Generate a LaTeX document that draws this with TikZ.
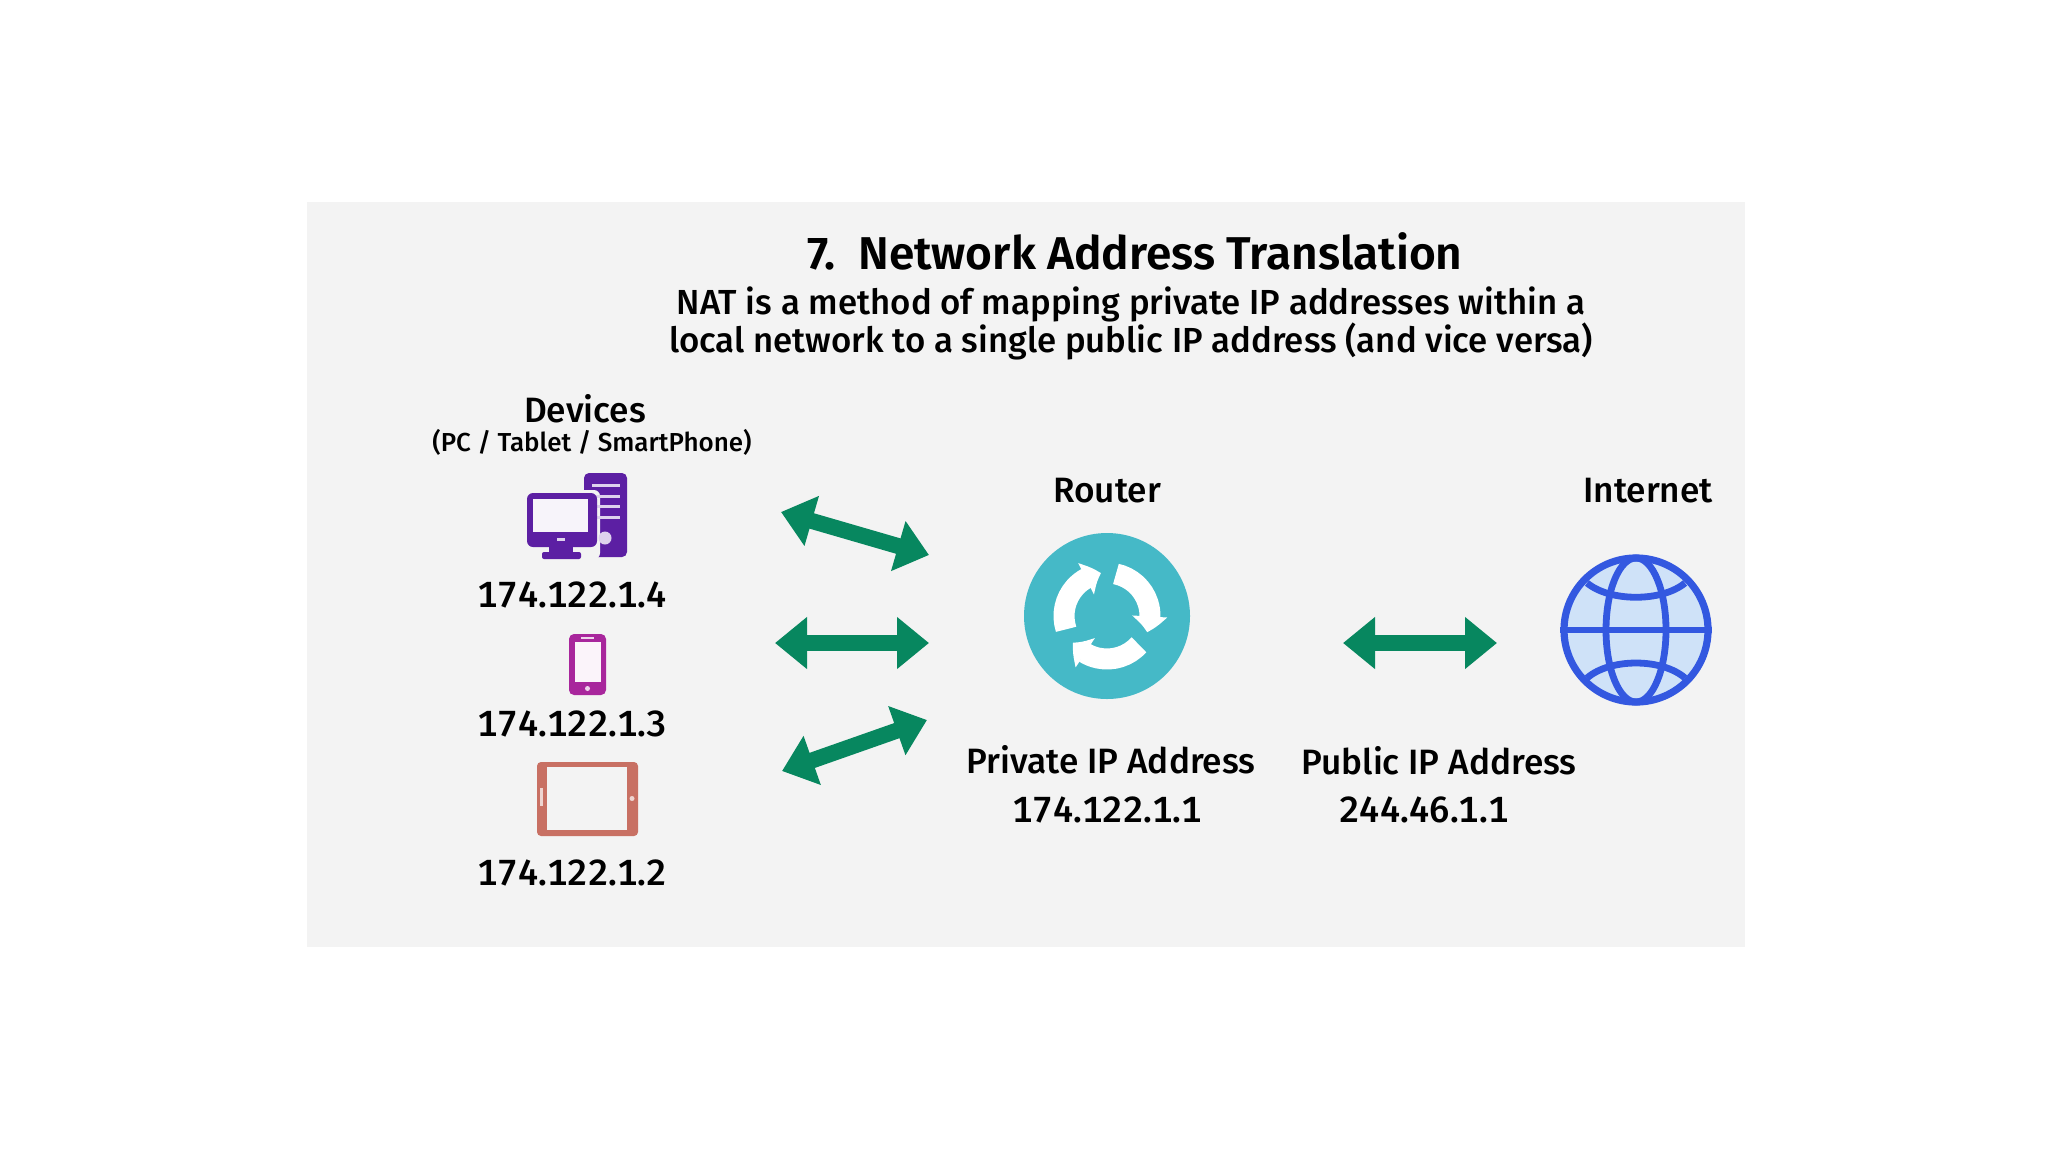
\documentclass[tikz,border=0pt]{standalone}
\usepackage{fontspec}
\setmainfont{Fira Sans Medium}[BoldFont={Fira Sans SemiBold}]
\newfontfamily\digitfont{Fira Sans Medium}[Numbers=Monospaced]
\usetikzlibrary{shapes.geometric, arrows.meta, positioning, backgrounds, bending}
\definecolor{panelgray}{HTML}{F3F3F3}
\definecolor{arrowgreen}{HTML}{07875F}
\definecolor{routerteal}{HTML}{45B9C7}
\definecolor{globeblue}{HTML}{3358E0}
\definecolor{globefill}{HTML}{CFE2F8}
\definecolor{pcpurple}{HTML}{5C1FA3}
\definecolor{phonepink}{HTML}{A8269C}
\definecolor{tabletred}{HTML}{C87063}

\begin{document}
\begin{tikzpicture}[
  x=0.5pt, y=-0.5pt,
  title/.style = {inner sep=0pt, font=\fontsize{23}{26}\selectfont\bfseries},
  desc/.style  = {inner sep=0pt, font=\fontsize{17.4}{20}\selectfont},
  lbl/.style   = {inner sep=0pt, font=\fontsize{17.6}{20}\selectfont},
  small/.style = {inner sep=0pt, font=\fontsize{13}{16}\selectfont},
  addr/.style  = {inner sep=0pt, font=\fontsize{18.2}{20}\selectfont\digitfont},
  arr/.style   = {{Triangle[length=16pt,width=25pt]}-{Triangle[length=16pt,width=25pt]},
                  line width=8pt, arrowgreen},
  spin/.style  = {-{Triangle[length=8pt,width=17pt,bend]}, line width=10.5pt, white},
  grid/.style  = {draw=globeblue, line width=3.4pt}
]

%% ── PAGE AND PANEL ──────────────────────────────────────────────
\useasboundingbox (0,0) rectangle (2048,1152);
\fill[white] (0,0) rectangle (2048,1152);
\fill[panelgray] (307,202) rectangle (1745,947);

%% ── HEADING ─────────────────────────────────────────────────────
\node[title] at (1135,251) (heading) {7.\ \ Network Address Translation};
\node[desc]  at (1131,304) (line1)   {NAT is a method of mapping private IP addresses within a};
\node[desc]  at (1131,341) (line2)   {local network to a single public IP address (and vice versa)};

%% ── DEVICES ─────────────────────────────────────────────────────
\node[lbl]   at (585,409) (devices) {Devices};
\node[small] at (592,442) (kinds)   {(PC / Tablet / SmartPhone)};
\node[addr]  at (572,595) (ipfour)  {174.122.1.4};
\node[addr]  at (572,724) (ipthree) {174.122.1.3};
\node[addr]  at (572,873) (iptwo)   {174.122.1.2};

% pc
\fill[pcpurple, rounded corners=2.5pt] (584,473) rectangle (627,557);
\fill[panelgray, rounded corners=3pt] (524,490) rectangle (600,559);
\foreach \y in {484,495,505,516} \fill[white!80!pcpurple] (592,\y) rectangle (620,\y+2.5);
\fill[white!80!pcpurple] (605,538) circle (6.5);
\fill[pcpurple, rounded corners=3pt] (527,493) rectangle (597,547);
\fill[white!95!pcpurple] (533,499) rectangle (588,532);
\fill[white!80!pcpurple] (557,538) rectangle (565,541);
\fill[pcpurple] (549,547) rectangle (573,553);
\fill[pcpurple, rounded corners=1pt] (542,552) rectangle (581,559);

% phone
\fill[phonepink, rounded corners=2.5pt] (569,634) rectangle (606,695);
\fill[white!95!phonepink] (575,642) rectangle (601,682);
\fill[white!80!phonepink] (581,637) rectangle (594,639);
\fill[white!80!phonepink] (587.5,688.5) circle (2.5);

% tablet
\fill[tabletred, rounded corners=2pt] (537,762) rectangle (638,836);
\fill[panelgray] (547,767) rectangle (627,830);
\fill[white!70!tabletred] (540,788) rectangle (543,806);
\fill[white!70!tabletred] (632,798.5) circle (2.5);

%% ── ROUTER ──────────────────────────────────────────────────────
\node[lbl] at (1107,491) (router) {Router};
\node[circle, fill=routerteal, minimum size=83pt, inner sep=0pt] at (1107,616) (routerdisc) {};
\foreach \a in {0,120,240}
  \draw[spin] ([shift={(\a+282:43)}]routerdisc.center) arc[start angle=\a+282, delta angle=100, radius=43];
\node[lbl] at (1111,760) (private) {Private IP Address};
\node[addr] at (1107,810) (ipone)   {174.122.1.1};

%% ── INTERNET ────────────────────────────────────────────────────
\node[lbl] at (1648,491) (internet) {Internet};
\node[circle, fill=globefill, draw=globeblue, line width=3.6pt, minimum size=72pt, inner sep=0pt]
  at (1636,630) (globe) {};
\draw[grid] (globe.center) ellipse[x radius=30, y radius=72];
\draw[grid] (globe.west) -- (globe.east);
\draw[grid] (1587,583) .. controls (1610,602) and (1662,602) .. (1685,583);
\draw[grid] (1587,678) .. controls (1610,658) and (1662,658) .. (1685,678);
\node[lbl] at (1439,761) (public) {Public IP Address};
\node[addr] at (1424,810) (ippub)  {244.46.1.1};

%% ── ARROWS ──────────────────────────────────────────────────────
\coordinate (pcleft)     at (781,512);
\coordinate (pcright)    at (929,555);
\coordinate (phoneleft)  at (775,643);
\coordinate (phoneright) at (929,643);
\coordinate (tableft)    at (782,771);
\coordinate (tabright)   at (927,720);
\coordinate (netleft)    at (1343,643);
\coordinate (netright)   at (1497,643);
\draw[arr] (pcleft)    -- (pcright);
\draw[arr] (phoneleft) -- (phoneright);
\draw[arr] (tableft)   -- (tabright);
\draw[arr] (netleft)   -- (netright);

\end{tikzpicture}
\end{document}
